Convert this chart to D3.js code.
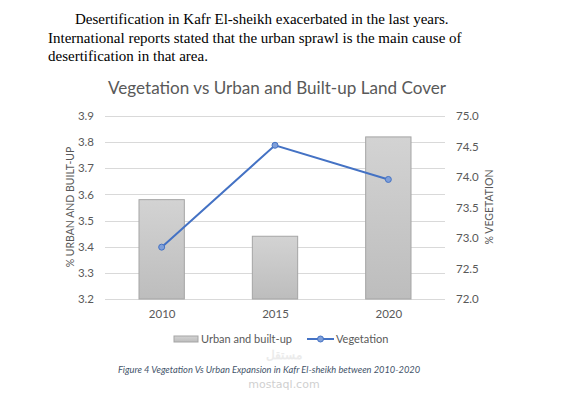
<!DOCTYPE html>
<html>
<head>
<meta charset="utf-8">
<script src="https://cdn.jsdelivr.net/npm/d3@7"></script>
<style>
  body { margin: 0; background: #fff; }
</style>
</head>
<body>
<div id="chart"></div>
<script>
// chart data
var years = ["2010", "2015", "2020"];
var urban = [3.58, 3.44, 3.82];
var vegetation = [72.85, 74.52, 73.96];
var leftTicks = [3.2, 3.3, 3.4, 3.5, 3.6, 3.7, 3.8, 3.9];
var rightTicks = [72.0, 72.5, 73.0, 73.5, 74.0, 74.5, 75.0];
var paragraph = [
  "Desertification in Kafr El-sheikh exacerbated in the last years.",
  "International reports stated that the urban sprawl is the main cause of",
  "desertification in that area."
];

var W = 571, H = 397;
var plot = {left: 105, right: 445, top: 116, bottom: 299};

var svg = d3.select("#chart").append("svg")
  .attr("width", W)
  .attr("height", H);

// gradient for bars
var grad = svg.append("defs").append("linearGradient")
  .attr("id", "barGrad")
  .attr("x1", 0).attr("y1", 0).attr("x2", 0).attr("y2", 1);
grad.append("stop").attr("offset", "0%").attr("stop-color", "#d3d3d3");
grad.append("stop").attr("offset", "100%").attr("stop-color", "#bdbdbd");

// paragraph text above the figure
svg.selectAll(".para")
  .data(paragraph)
  .enter().append("text")
    .attr("x", function(d, i) { return i == 0 ? 75 : 48; })
    .attr("y", function(d, i) { return 24 + i * 18.5; })
    .style("font-family", "'Liberation Serif', 'Times New Roman', serif")
    .style("font-size", "15px")
    .style("fill", "#000")
    .text(function(d) { return d; });

// title
svg.append("text")
  .attr("x", 277)
  .attr("y", 94)
  .attr("text-anchor", "middle")
  .attr("textLength", 338)
  .attr("lengthAdjust", "spacingAndGlyphs")
  .style("font-family", "Lato, sans-serif")
  .style("font-size", "18px")
  .style("fill", "#595959")
  .text("Vegetation vs Urban and Built-up Land Cover");

// scales
var x = d3.scaleBand()
  .domain(years)
  .range([plot.left, plot.right])
  .paddingInner(0.6)
  .paddingOuter(0.3);

var xc = d3.scalePoint()
  .domain(years)
  .range([plot.left, plot.right])
  .padding(0.5);

var yL = d3.scaleLinear()
  .domain([3.2, 3.9])
  .range([plot.bottom, plot.top]);

var yR = d3.scaleLinear()
  .domain([72, 75])
  .range([plot.bottom, plot.top]);

// gridlines
svg.append("g")
  .selectAll("line")
  .data(leftTicks)
  .enter().append("line")
    .attr("x1", plot.left)
    .attr("x2", plot.right)
    .attr("y1", function(d) { return Math.round(yL(d)) + 0.5; })
    .attr("y2", function(d) { return Math.round(yL(d)) + 0.5; })
    .style("stroke", "#d9d9d9")
    .style("stroke-width", 1);

// left axis
var leftAxis = svg.append("g")
  .attr("transform", "translate(" + (plot.left - 8) + ",0)")
  .call(d3.axisLeft(yL).tickValues(leftTicks).tickFormat(d3.format(".1f")).tickSize(0));
leftAxis.select(".domain").remove();

// right axis
var rightAxis = svg.append("g")
  .attr("transform", "translate(" + (plot.right + 8) + ",0)")
  .call(d3.axisRight(yR).tickValues(rightTicks).tickFormat(d3.format(".1f")).tickSize(0));
rightAxis.select(".domain").remove();

// bottom axis
var bottomAxis = svg.append("g")
  .attr("transform", "translate(0," + (plot.bottom + 8) + ")")
  .call(d3.axisBottom(xc).tickSize(0));
bottomAxis.select(".domain").remove();

svg.selectAll(".tick text")
  .style("font-family", "Lato, sans-serif")
  .style("font-size", "11.5px")
  .style("fill", "#595959");

// axis titles
svg.append("text")
  .attr("transform", "translate(74,207) rotate(-90)")
  .attr("text-anchor", "middle")
  .style("font-family", "Lato, sans-serif")
  .style("font-size", "10.5px")
  .style("fill", "#595959")
  .text("% URBAN AND BUILT-UP");

svg.append("text")
  .attr("transform", "translate(493,207) rotate(-90)")
  .attr("text-anchor", "middle")
  .style("font-family", "Lato, sans-serif")
  .style("font-size", "10.5px")
  .style("fill", "#595959")
  .text("% VEGETATION");

// bars
svg.append("g")
  .selectAll("rect")
  .data(urban)
  .enter().append("rect")
    .attr("x", function(d, i) { return x(years[i]); })
    .attr("y", function(d) { return yL(d); })
    .attr("width", x.bandwidth())
    .attr("height", function(d) { return yL(3.2) - yL(d); })
    .style("fill", "url(#barGrad)")
    .style("stroke", "#a5a5a5")
    .style("stroke-width", 1);

// vegetation line
var line = d3.line()
  .x(function(d, i) { return xc(years[i]); })
  .y(function(d) { return yR(d); });

svg.append("path")
  .datum(vegetation)
  .attr("d", line)
  .style("fill", "none")
  .style("stroke", "#4472c4")
  .style("stroke-width", 2);

svg.append("g")
  .selectAll("circle")
  .data(vegetation)
  .enter().append("circle")
    .attr("cx", function(d, i) { return xc(years[i]); })
    .attr("cy", function(d) { return yR(d); })
    .attr("r", 3)
    .style("fill", "#7f9fd9")
    .style("stroke", "#4472c4")
    .style("stroke-width", 1);

// legend
var legend = svg.append("g");
legend.append("rect")
  .attr("x", 174).attr("y", 336)
  .attr("width", 24).attr("height", 6)
  .style("fill", "url(#barGrad)")
  .style("stroke", "#a5a5a5");
legend.append("text")
  .attr("x", 201).attr("y", 343)
  .style("font-family", "Lato, sans-serif")
  .style("font-size", "11px")
  .style("fill", "#595959")
  .text("Urban and built-up");
legend.append("line")
  .attr("x1", 307).attr("x2", 334)
  .attr("y1", 339).attr("y2", 339)
  .style("stroke", "#4472c4")
  .style("stroke-width", 2);
legend.append("circle")
  .attr("cx", 320.5).attr("cy", 339).attr("r", 3)
  .style("fill", "#7f9fd9")
  .style("stroke", "#4472c4");
legend.append("text")
  .attr("x", 336).attr("y", 343)
  .style("font-family", "Lato, sans-serif")
  .style("font-size", "11px")
  .style("fill", "#595959")
  .text("Vegetation");

// watermark
svg.append("text")
  .attr("x", 284).attr("y", 359)
  .attr("text-anchor", "middle")
  .style("font-family", "'Noto Sans', sans-serif")
  .style("font-size", "12px")
  .style("font-weight", "bold")
  .style("fill", "#ebebeb")
  .text("مستقل");
svg.append("text")
  .attr("x", 284).attr("y", 388)
  .attr("text-anchor", "middle")
  .style("font-family", "'DejaVu Sans', sans-serif")
  .style("font-size", "11px")
  .style("fill", "#d0d0d0")
  .text("mostaql.com");

// caption
svg.append("text")
  .attr("x", 118).attr("y", 373)
  .style("font-family", "Lato, sans-serif")
  .style("font-size", "9.3px")
  .style("font-style", "italic")
  .style("fill", "#44546a")
  .text("Figure 4 Vegetation Vs Urban Expansion in Kafr El-sheikh between 2010-2020");
</script>
</body>
</html>
